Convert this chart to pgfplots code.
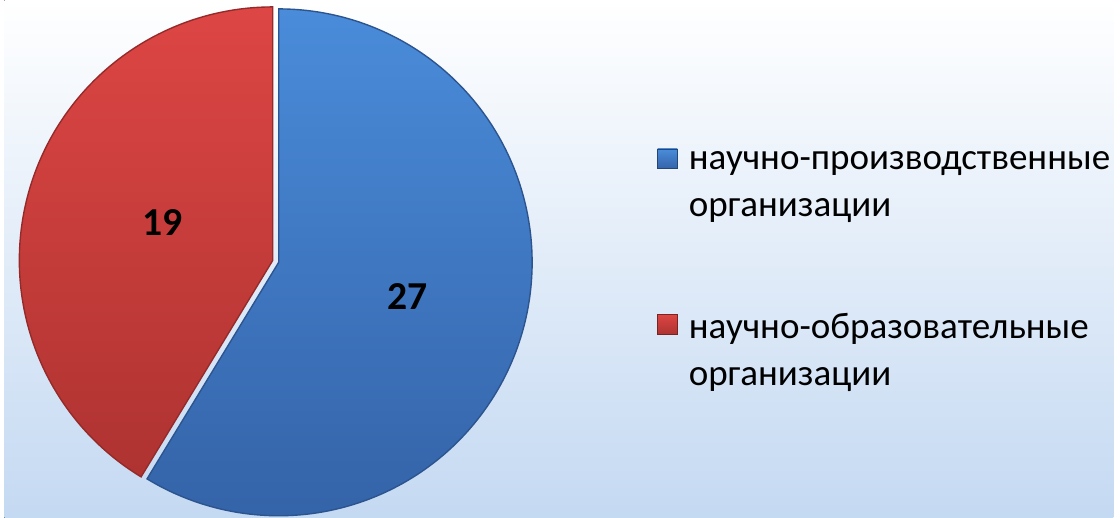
\documentclass[border=0pt]{standalone}
\usepackage{pgfplots}
\pgfplotsset{compat=1.18}
\usepackage{pgfplotstable}
\usepackage{fontspec}
\setmainfont{Carlito}
\definecolor{bgblue}{HTML}{C4D9F2}
\definecolor{bgmid}{HTML}{E4EEFA}
\definecolor{blueTop}{HTML}{4A8CDA}
\definecolor{blueBot}{HTML}{3463A8}
\definecolor{redTop}{HTML}{DD4644}
\definecolor{redBot}{HTML}{AE3331}
\pgfplotstableread{
name value
prod 27
edu 19
}\piedata
\begin{document}
\pgfplotstablegetelem{0}{value}\of\piedata \let\vA\pgfplotsretval
\pgfplotstablegetelem{1}{value}\of\piedata \let\vB\pgfplotsretval
\pgfmathsetmacro{\angB}{90+360*\vB/(\vA+\vB)}
\begin{tikzpicture}
\begin{axis}[
  scale only axis, width=560pt, height=261.5pt,
  xmin=0, xmax=1120, ymin=0, ymax=523,
  hide axis, clip=false,
  legend style={at={(axis cs:653,378)}, anchor=north west, draw=none, fill=none,
    font=\fontsize{18.7}{23.5}\selectfont, nodes={align=left}, row sep=43.5pt},
  legend cell align=left,
  legend image code/.code={\draw[#1] (0pt,8.5pt) rectangle (10pt,18.5pt); \path (13.5pt,10pt);},
]
\fill[top color=white, middle color=bgmid, bottom color=bgblue] (axis cs:0,0) rectangle (axis cs:1120,523);
% red slice
\addplot[draw=redBot!85!black, line width=0.7pt, top color=redTop, bottom color=redBot,
  domain=90:\angB, samples=150, forget plot]
  ({271+256*cos(x)},{260+256*sin(x)}) -- (axis cs:271,260) -- cycle;
% blue slice
\addplot[draw=blueBot!85!black, line width=0.7pt, top color=blueTop, bottom color=blueBot,
  domain=\angB:450, samples=200, forget plot]
  ({277+256*cos(x)},{258+256*sin(x)}) -- (axis cs:277,258) -- cycle;
\node[font=\bfseries\fontsize{20}{24}\selectfont] at (axis cs:160,298) {19};
\node[font=\bfseries\fontsize{20}{24}\selectfont] at (axis cs:407,223) {27};
\addlegendimage{top color=blueTop, bottom color=blueBot, draw=blueBot!70!black}
\addlegendentry{научно-производственные\\организации}
\addlegendimage{top color=redTop, bottom color=redBot, draw=redBot!70!black}
\addlegendentry{научно-образовательные\\организации}
\end{axis}
\end{tikzpicture}
\end{document}
